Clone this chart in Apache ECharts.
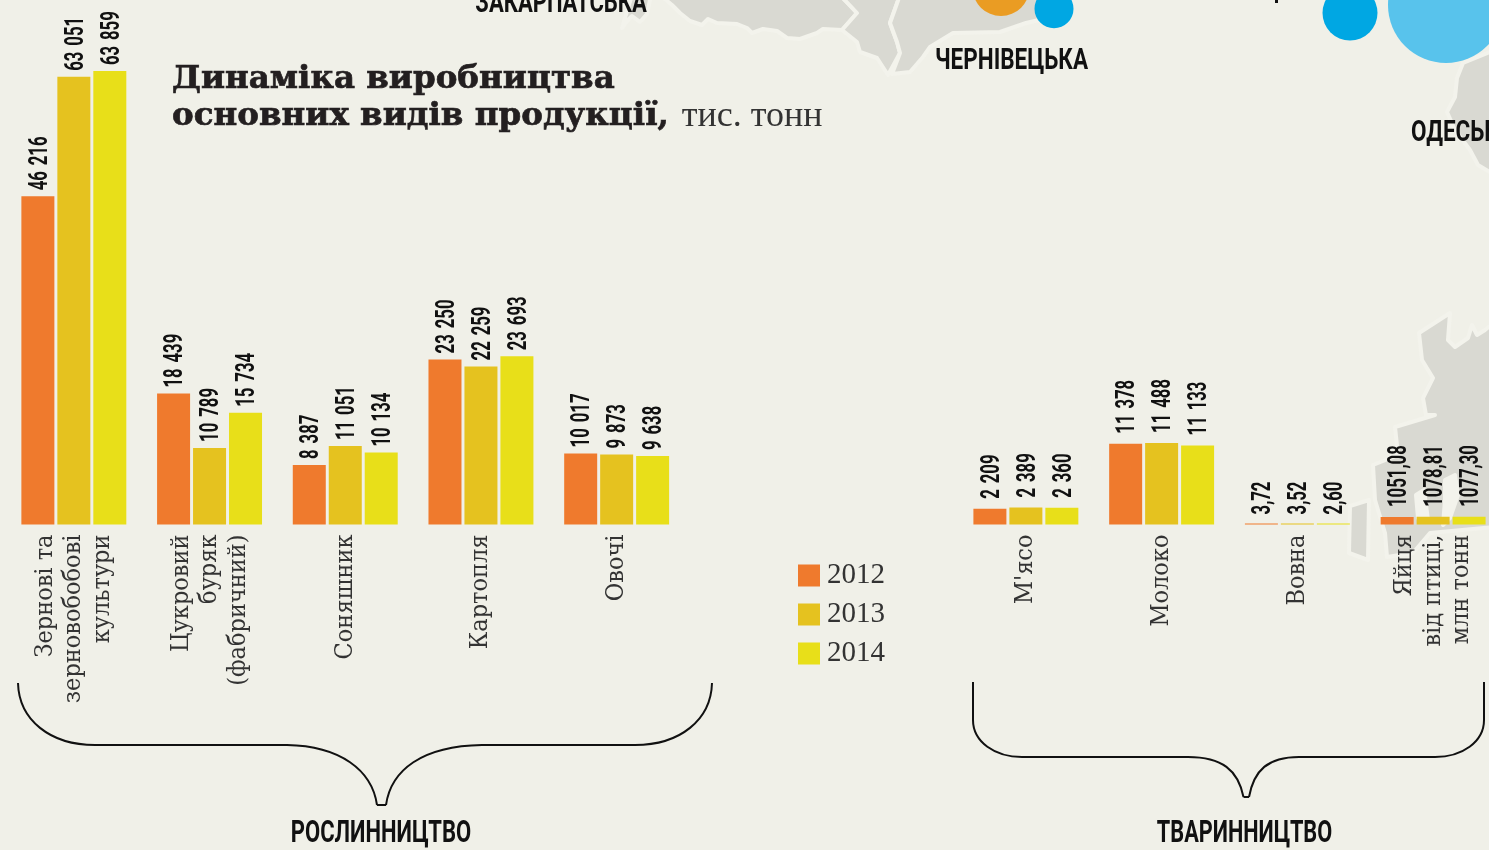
<!DOCTYPE html>
<html><head><meta charset="utf-8">
<style>html,body{margin:0;padding:0;background:#f0f0e8}#c{width:1489px;height:850px}</style>
<script src="https://cdn.jsdelivr.net/npm/echarts@6/dist/echarts.min.js"></script>
</head><body><div id="c"></div>
<script>
const years = ['2012','2013','2014'];
const colors = ['#ef7a2d','#e5c21f','#e8df19'];
const cropCategories = ['Зернові та\nзерновобобові\nкультури','Цукровий\nбуряк\n(фабричний)','Соняшник','Картопля','Овочі'];
const crop2012 = [46216,18439,8387,23250,10017];
const crop2013 = [63051,10789,11051,22259,9873];
const crop2014 = [63859,15734,10134,23693,9638];
const animalCategories = ["М'ясо",'Молоко','Вовна','Яйця\nвід птиці,\nмлн тонн'];
const animal2012 = [2209,11378,3.72,1051.08];
const animal2013 = [2389,11488,3.52,1078.81];
const animal2014 = [2360,11133,2.60,1077.30];

const COND = 'Roboto,"DejaVu Sans Condensed",sans-serif';
const SERIF = '"DejaVu Serif Condensed","DejaVu Serif",serif';
function fmt(v){
  if(Number.isInteger(v)) return String(v).replace(/\B(?=(\d{3})+$)/g,' \u200a');
  return v.toFixed(2).replace('.',',');
}
function mk(name,data,i,idx){
  return {name,type:'bar',xAxisIndex:idx,yAxisIndex:idx,data,barWidth:33,barGap:'9%',barMinHeight:1,
    animation:false,itemStyle:{color:colors[i]}};
}
function labels(sets,idx,dist){
  const rows=[];
  sets.forEach((arr,y)=>arr.forEach((v,c)=>rows.push([c,y,v])));
  return {type:'custom',name:'labels'+idx,xAxisIndex:idx,yAxisIndex:idx,silent:true,z:5,clip:false,
    encode:{x:0,y:2},data:rows,
    renderItem:(p,api)=>{
      const pt=api.coord([api.value(0),api.value(2)]);
      return {type:'text',x:pt[0]+(api.value(1)-1)*36+2.5,y:pt[1]-dist,rotation:Math.PI/2,scaleX:0.67,
        style:{text:fmt(api.value(2)),fontFamily:COND,fontWeight:'bold',fontSize:25,fill:'#111',align:'left',verticalAlign:'middle'}};
    }};
}
function xAx(cats,idx,pad){
  return {type:'category',gridIndex:idx,data:cats,axisLine:{show:false},axisTick:{show:false},
    axisLabel:{rotate:90,margin:10,interval:0,align:'right',verticalAlign:'middle',padding:[pad,0,0,0],fontFamily:SERIF,fontSize:25,lineHeight:28.5,color:'#333'}};
}
function yAx(idx){return {type:'value',gridIndex:idx,min:0,max:73870,show:false};}
const land='#d9d9d2', edge='#f3f3ec';
function poly(pts,fill){return {type:'polygon',z:0,silent:true,shape:{points:pts},style:{fill:fill||land,stroke:edge,lineWidth:4,lineJoin:'round'}};}
function circ(cx,cy,r,fill){return {type:'circle',z:1,silent:true,shape:{cx,cy,r},style:{fill}};}
function txt(x,y,t,size,sx,align){return {type:'text',z:3,silent:true,x,y,scaleX:sx,style:{text:t,fontFamily:COND,fontWeight:'bold',fontSize:size,fill:'#111',align:align||'center',verticalAlign:'middle'}};}
const ST={stroke:'#111',lineWidth:2,fill:'none'};
function cv(a,b,c,d,e,f,g,h){return {type:'bezierCurve',z:3,silent:true,shape:{x1:a,y1:b,cpx1:c,cpy1:d,cpx2:e,cpy2:f,x2:g,y2:h},style:ST};}
function ln(a,b,c,d){return {type:'line',z:3,silent:true,shape:{x1:a,y1:b,x2:c,y2:d},style:ST};}
const chart = echarts.init(document.getElementById('c'));
chart.setOption({
  backgroundColor:'#f0f0e8',animation:false,
  title:{left:167,top:56,itemGap:0,text:'{b|Динаміка виробництва}\n{b|основних видів продукції,}{s|тис. тонн}',
    textStyle:{rich:{b:{fontFamily:'"DejaVu Serif",serif',fontWeight:'bold',fontSize:32.5,lineHeight:37,color:'#231f20',textBorderColor:'#231f20',textBorderWidth:0.7},
      s:{fontFamily:'"Liberation Serif",serif',fontWeight:'normal',fontSize:36,lineHeight:37,color:'#333',padding:[0,0,0,13]}}}},
  legend:{left:793,top:556,orient:'vertical',data:years,icon:'rect',itemWidth:22,itemHeight:22,itemGap:10,
    selectedMode:false,textStyle:{fontFamily:'"Liberation Serif",serif',fontSize:29,color:'#333',padding:[3,0,0,2]}},
  grid:[{left:6,top:0,width:678.5,height:524.5,outerBoundsMode:'none'},{left:958,top:0,width:543,height:524.5,outerBoundsMode:'none'}],
  xAxis:[xAx(cropCategories,0,7),xAx(animalCategories,1,3)],
  yAxis:[yAx(0),yAx(1)],
  series:[mk(years[0],crop2012,0,0),mk(years[1],crop2013,1,0),mk(years[2],crop2014,2,0),
          mk(years[0],animal2012,0,1),mk(years[1],animal2013,1,1),mk(years[2],animal2014,2,1),
          labels([crop2012,crop2013,crop2014],0,6),labels([animal2012,animal2013,animal2014],1,10)],
  graphic:[
    poly([[632,-5],[628,8],[622,28],[628,20],[632,16],[640,22],[647,14],[651,-5]]),
    poly([[660,-5],[672,5],[680,13],[690,21],[702,25],[708,19],[717,23],[737,24],[747,28],[752,33],[763,29],[777,31],[787,38],[800,39],[817,33],[823,29],[842,30],[857,13],[840,-5]]),
    poly([[840,-5],[857,13],[842,30],[857,42],[860,52],[877,58],[888,75],[900,53],[897,42],[890,23],[900,-5]]),
    poly([[900,-5],[890,23],[897,42],[900,53],[892,74],[910,72],[923,57],[930,47],[953,33],[1000,32],[1026,23],[1039,20],[1060,-5]]),
    poly([[1463,63],[1457,78],[1455,97],[1447,112],[1455,130],[1470,150],[1478,165],[1495,175],[1495,50]]),
    poly([[1450,313],[1419,333],[1422,360],[1433,378],[1423,398],[1426,415],[1435,415],[1395,427],[1398,455],[1373,465],[1375,500],[1385,533],[1387,557],[1413,553],[1430,533],[1495,527],[1495,322],[1485,330],[1477,335],[1472,325],[1468,338],[1455,347],[1448,340]]),
    poly([[1350,506],[1369,500],[1368,560],[1349,553]]),
    poly([[1416,495],[1424,490],[1428,520],[1418,518]],edge),
    poly([[1445,480],[1455,475],[1458,495],[1450,518],[1443,525],[1445,500]],edge),
    circ(1001,-12.5,28.5,'#ea9c23'),circ(1054,8.7,19.5,'#00a7e3'),circ(1350,13,27.5,'#00a7e3'),circ(1446,5,58,'#58c3ec'),
    {type:'rect',z:3,silent:true,shape:{x:1275,y:0,width:3,height:3},style:{fill:'#111'}},
    txt(561,4,'ЗАКАРПАТСЬКА',30,0.735),txt(1011.5,61,'ЧЕРНІВЕЦЬКА',30,0.75),txt(1411,133,'ОДЕСЬКА',30,0.75,'left'),
    txt(381,834,'РОСЛИННИЦТВО',31,0.71),txt(1244.5,834,'ТВАРИННИЦТВО',31,0.70),
    cv(18,683,19,720,50,745,95,745),ln(95,745,287,745),cv(287,745,340,746,372,770,377,805),ln(377,805,386,805),
    cv(386,805,391,770,422,746,482,745),ln(482,745,635,745),cv(635,745,680,745,711,720,712,683),
    ln(973,682,973,720),cv(973,720,973,742,995,757,1022,757),ln(1022,757,1188,757),cv(1188,757,1222,757,1238,770,1243.5,797),ln(1243.5,797,1249,797),
    cv(1249,797,1254,770,1268,757,1299,757),ln(1299,757,1435,757),cv(1435,757,1462,757,1484,742,1484,720),ln(1484,720,1484,682)
  ]
});
</script></body></html>
